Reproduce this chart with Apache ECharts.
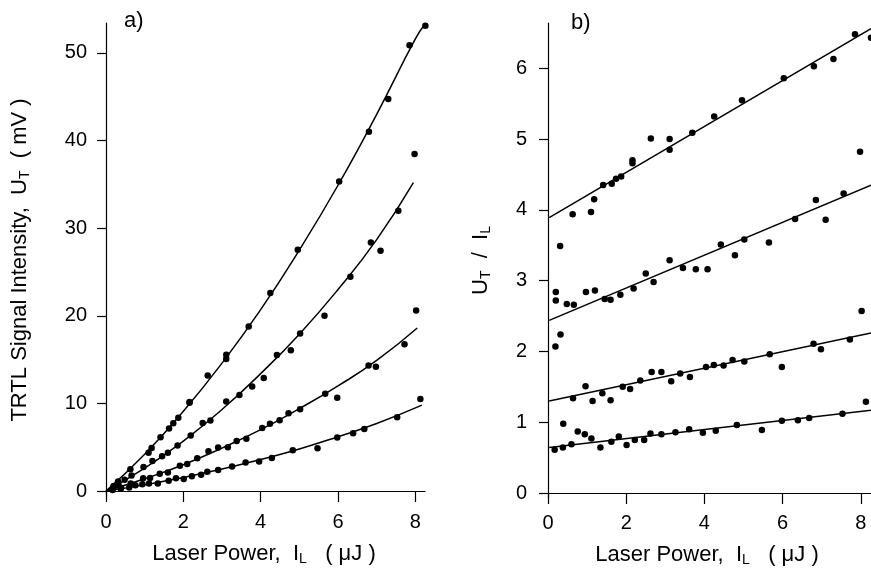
<!DOCTYPE html>
<html><head><meta charset="utf-8">
<script src="https://cdn.jsdelivr.net/npm/echarts@6/dist/echarts.min.js"></script>
<style>html,body{margin:0;padding:0;background:#fff}#c{width:871px;height:574px}</style>
</head><body><div id="c"></div>
<script>
// ---- data: laser power I_L (uJ), signal U_T (mV), ratio U_T/I_L ----
const il1 = [0.31,0.63,1.10,1.18,1.41,1.63,1.74,1.87,2.16,2.16,2.63,3.11,3.11,3.69,4.25,4.96,6.03,6.80,7.30,7.85,8.26];
const ut1 = [1.08,2.48,4.37,4.90,6.13,7.12,7.73,8.36,10.15,10.07,13.18,15.55,15.08,18.78,22.61,27.53,35.34,41.00,44.75,50.87,53.11];
const rt1 = [3.49,3.94,3.97,4.15,4.35,4.37,4.44,4.47,4.70,4.66,5.01,5.00,4.85,5.09,5.32,5.55,5.86,6.03,6.13,6.48,6.43];

const il2 = [0.19,0.32,0.20,0.20,0.48,0.66,0.97,1.20,1.45,1.60,1.85,2.19,2.50,2.70,3.11,3.45,3.78,4.08,4.42,4.78,5.02,5.65,6.32,6.85,7.10,7.56,7.98];
const ut2 = [0.39,0.72,0.57,0.54,1.28,1.76,2.75,3.43,3.97,4.37,5.18,6.33,7.75,8.05,10.23,10.97,11.94,12.89,15.51,16.06,17.97,20.00,24.46,28.36,27.41,31.98,38.46];
const rt2 = [2.07,2.24,2.84,2.72,2.67,2.66,2.84,2.86,2.74,2.73,2.80,2.89,3.10,2.98,3.29,3.18,3.16,3.16,3.51,3.36,3.58,3.54,3.87,4.14,3.86,4.23,4.82];

const il3 = [0.64,0.96,1.14,1.39,1.60,1.91,2.10,2.36,2.65,2.90,3.15,3.38,3.63,4.04,4.24,4.49,4.72,5.02,5.67,5.98,6.79,6.98,7.72,8.02];
const ut3 = [0.86,1.45,1.48,1.96,2.10,2.87,3.09,3.75,4.53,4.96,4.98,5.71,5.95,7.19,7.67,8.08,8.87,9.34,11.11,10.64,14.33,14.17,16.75,20.61];
const rt3 = [1.34,1.51,1.30,1.41,1.31,1.50,1.47,1.59,1.71,1.71,1.58,1.69,1.64,1.78,1.81,1.80,1.88,1.86,1.96,1.78,2.11,2.03,2.17,2.57];

const il4 = [0.17,0.38,0.39,0.60,0.76,0.94,1.11,1.34,1.62,1.81,2.01,2.22,2.46,2.62,2.90,3.26,3.61,3.96,4.29,4.83,5.47,5.98,6.39,6.68,7.53,8.13];
const ut4 = [0.10,0.25,0.38,0.41,0.66,0.78,0.85,0.86,1.17,1.45,1.37,1.67,1.85,2.20,2.41,2.80,3.25,3.37,3.78,4.64,4.87,6.10,6.58,7.08,8.43,10.49];
const rt4 = [0.61,0.645,0.98,0.69,0.87,0.83,0.77,0.645,0.725,0.80,0.68,0.75,0.75,0.84,0.83,0.86,0.90,0.85,0.88,0.96,0.89,1.02,1.03,1.06,1.12,1.29];

// fitted curves (panel a)
const fitA1x = [0,1,2,3,4,5,6,7,8,8.25];
const fitA1y = [0,4.2,9.1,14.6,20.7,27.5,34.9,43.0,51.6,53.3];
const fitA2x = [0,1,2,3,4,5,6,7,7.95];
const fitA2y = [0,2.6,5.7,9.3,13.4,17.9,23.0,28.7,35.2];
const fitA3x = [0,1,2,3,4,5,6,7,8.05];
const fitA3y = [0,1.4,3.0,4.9,7.0,9.4,12.0,14.9,18.6];
const fitA4x = [0,1,2,3,4,5,6,7,8.17];
const fitA4y = [0,0.7,1.55,2.5,3.6,4.8,6.2,7.7,9.8];

// fitted lines (panel b)
const fitBx = [0.03, 8.26];
const fitB1 = [3.89, 6.56];
const fitB2 = [2.44, 4.35];
const fitB3 = [1.30, 2.26];
const fitB4 = [0.645, 1.17];

// tick labels
const xTicks = [0,2,4,6,8];
const yTicksA = [0,10,20,30,40,50];
const yTicksB = [0,1,2,3,4,5,6];

// ---- build ----
const FONT = "'Liberation Sans', Arial, Helvetica, sans-serif";
const zip = (a, b) => a.map((v, i) => [v, b[i]]);
const chart = echarts.init(document.getElementById('c'), null, {renderer: 'canvas'});

const axisCommon = {
  axisLine: {show: true, lineStyle: {color: '#000', width: 1.2}},
  axisTick: {show: true, inside: false, lineStyle: {color: '#000', width: 1.2}},
  splitLine: {show: false},
  nameLocation: 'middle',
  nameTextStyle: {color: '#000', fontFamily: FONT, fontSize: 22,
    rich: {sub: {fontSize: 14, fontFamily: FONT, color: '#000', padding: [11, 0, 0, 0]}}}
};
const labelStyle = {color: '#000', fontFamily: FONT, fontSize: 20};

function xAxis(gi, min, max) {
  return Object.assign({}, axisCommon, {
    type: 'value', gridIndex: gi, min: min, max: max,
    axisTick: Object.assign({}, axisCommon.axisTick, {length: 11, customValues: xTicks}),
    axisLabel: Object.assign({}, labelStyle, {margin: 15, customValues: xTicks}),
    name: 'Laser Power,  I{sub|L}   ( μJ )', nameGap: 44
  });
}
function yAxis(gi, min, max, ticks, name, gap) {
  return Object.assign({}, axisCommon, {
    type: 'value', gridIndex: gi, min: min, max: max,
    axisTick: Object.assign({}, axisCommon.axisTick, {length: 9, customValues: ticks}),
    axisLabel: Object.assign({}, labelStyle, {margin: 16, customValues: ticks}),
    name: name, nameGap: gap, nameRotate: 90
  });
}

const dot = (xi, yi, data) => ({type: 'scatter', xAxisIndex: xi, yAxisIndex: yi, data: data,
  symbol: 'circle', symbolSize: 6.5, itemStyle: {color: '#000', opacity: 1}, clip: false, silent: true});
const fit = (xi, yi, data, smooth) => ({type: 'line', xAxisIndex: xi, yAxisIndex: yi, data: data,
  showSymbol: false, smooth: smooth, lineStyle: {color: '#000', width: 1.5}, clip: true, silent: true});

chart.setOption({
  animation: false,
  backgroundColor: '#fff',
  grid: [
    {left: 103, top: 23, width: 322, height: 474, containLabel: false, outerBoundsMode: 'none'},
    {left: 543, top: 23, width: 328, height: 475, containLabel: false, outerBoundsMode: 'none'}
  ],
  xAxis: [xAxis(0, -0.078, 8.25), xAxis(1, -0.128, 8.26)],
  yAxis: [
    yAxis(0, -0.685, 53.42, yTicksA, 'TRTL Signal Intensity,  U{sub|T}  ( mV )', 71),
    yAxis(1, -0.07, 6.64, yTicksB, 'U{sub|T}  /  I{sub|L}', 50)
  ],
  graphic: [
    {type: 'text', left: 124, top: 10, style: {text: 'a)', font: '22px ' + FONT, fill: '#000'}},
    {type: 'text', left: 571, top: 12, style: {text: 'b)', font: '22px ' + FONT, fill: '#000'}}
  ],
  series: [
    fit(0, 0, zip(fitA1x, fitA1y), true),
    fit(0, 0, zip(fitA2x, fitA2y), true),
    fit(0, 0, zip(fitA3x, fitA3y), true),
    fit(0, 0, zip(fitA4x, fitA4y), true),
    dot(0, 0, zip(il1, ut1)),
    dot(0, 0, zip(il2, ut2)),
    dot(0, 0, zip(il3, ut3)),
    dot(0, 0, zip(il4, ut4)),
    fit(1, 1, zip(fitBx, fitB1), false),
    fit(1, 1, zip(fitBx, fitB2), false),
    fit(1, 1, zip(fitBx, fitB3), false),
    fit(1, 1, zip(fitBx, fitB4), false),
    dot(1, 1, zip(il1, rt1)),
    dot(1, 1, zip(il2, rt2)),
    dot(1, 1, zip(il3, rt3)),
    dot(1, 1, zip(il4, rt4))
  ]
});
</script>
</body></html>
